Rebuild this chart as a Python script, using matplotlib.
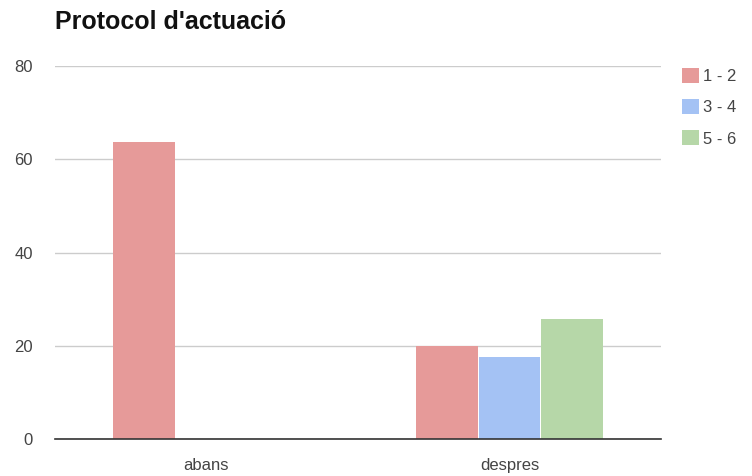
import numpy as np
import matplotlib.pyplot as plt

plt.rcParams['font.family'] = ['Liberation Sans', 'DejaVu Sans']

categories = ["abans", "despres"]
series_names = ["1 - 2", "3 - 4", "5 - 6"]
vals_12 = [63.7, 20]
vals_34 = [0, 17.6]
vals_56 = [0, 25.8]
colors = ["#e69a99", "#a4c2f4", "#b6d7a8"]

fig = plt.figure(figsize=(7.52, 4.76), dpi=100)
ax = fig.add_axes([0.073, 0.0777, 0.806, 0.7833])

x = np.arange(len(categories))
w = 0.204
for i, (vals, name, c) in enumerate(zip([vals_12, vals_34, vals_56], series_names, colors)):
    ax.bar(x + (i - 1) * (w + 0.003), vals, w, color=c, label=name, zorder=3)

ax.set_xlim(-0.5, 1.5)
ax.set_ylim(0, 80)
ax.set_yticks([0, 20, 40, 60, 80])
ax.set_xticks(x)
ax.set_xticklabels(categories)
ax.grid(axis='y', color='#cccccc', linewidth=1, zorder=0)
for s in ['top', 'right', 'left']:
    ax.spines[s].set_visible(False)
ax.spines['bottom'].set_color('#333333')
ax.spines['bottom'].set_linewidth(1.2)
ax.spines['bottom'].set_zorder(4)
ax.tick_params(length=0, labelsize=12, colors='#444444')
ax.tick_params(axis='x', pad=14)
ax.tick_params(axis='y', pad=16)

fig.text(0.073, 0.953, "Protocol d'actuació", fontsize=18, fontweight='bold',
         ha='left', va='center', color='#111111')

leg = ax.legend(loc='upper left', bbox_to_anchor=(1.01, 1.035), frameon=False,
                handlelength=1.0, handleheight=1.0, labelspacing=0.9,
                handletextpad=0.25, fontsize=12)
for t in leg.get_texts():
    t.set_color('#444444')

plt.savefig("out.png", dpi=100)
